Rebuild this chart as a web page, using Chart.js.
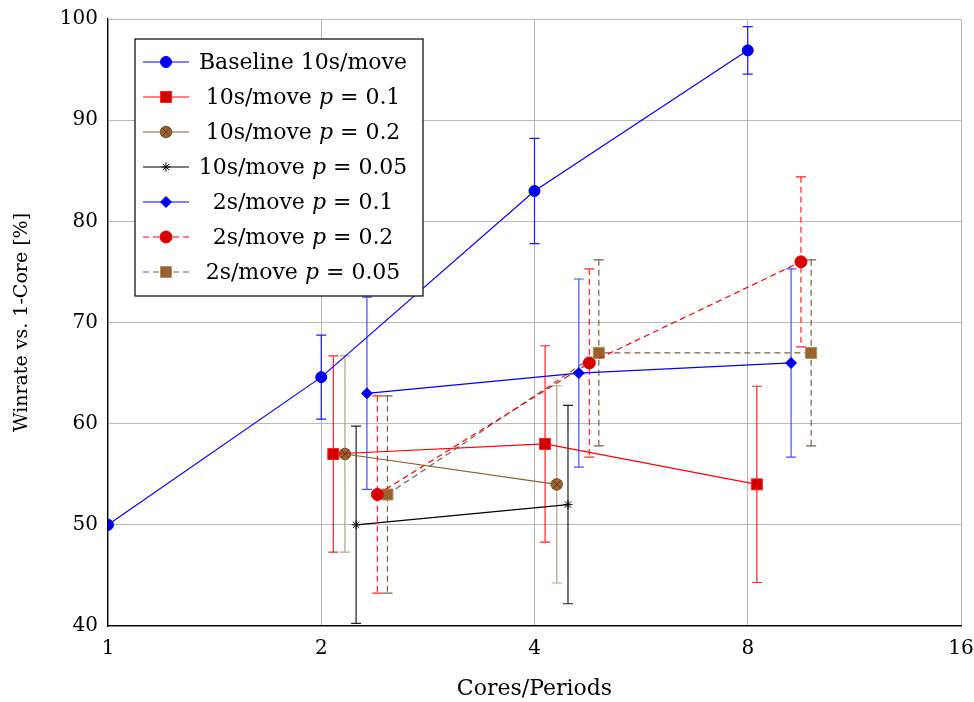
<!DOCTYPE html>
<html>

<head>
    <meta charset="utf-8" />
    <style>
        body { margin: 0; background: #fff; }
    </style>
</head>

<body>
    <div style="width:974px; height:702px;">
        <canvas id="winrateChart" width="974" height="702"></canvas>
    </div>

    <script src="https://cdn.jsdelivr.net/npm/chart.js@4.4.1/dist/chart.umd.min.js"></script>

    <script>
        // values (x is shifted a bit per series, like the original)
        const xTicks = [1, 2, 4, 8, 16];

        const baselineX = [1, 2, 4, 8];
        const baselineY = [50, 64.6, 83, 96.9];
        const baselineErr = [0, 4.15, 5.2, 2.35];

        const tenP1X = [2.08, 4.14, 8.24];
        const tenP1Y = [57, 58, 54];
        const tenP1Err = [9.7, 9.7, 9.7];

        const tenP2X = [2.16, 4.30];
        const tenP2Y = [57, 54];
        const tenP2Err = [9.7, 9.75];

        const tenP05X = [2.24, 4.46];
        const tenP05Y = [50, 52];
        const tenP05Err = [9.75, 9.8];

        const twoP1X = [2.32, 4.62, 9.21];
        const twoP1Y = [63, 65, 66];
        const twoP1Err = [9.5, 9.3, 9.3];

        const twoP2X = [2.40, 4.78, 9.51];
        const twoP2Y = [53, 66, 76];
        const twoP2Err = [9.75, 9.3, 8.4];

        const twoP05X = [2.48, 4.93, 9.83];
        const twoP05Y = [53, 67, 67];
        const twoP05Err = [9.75, 9.2, 9.2];

        const seriesLabels = [
            'Baseline 10s/move',
            '10s/move p = 0.1',
            '10s/move p = 0.2',
            '10s/move p = 0.05',
            '2s/move p = 0.1',
            '2s/move p = 0.2',
            '2s/move p = 0.05'
        ];

        function points(xs, ys) {
            return xs.map((x, i) => ({ x: x, y: ys[i] }));
        }

        const serif = 'DejaVu Serif';

        function series(label, xs, ys, errs, style) {
            return Object.assign({
                label: label,
                data: points(xs, ys),
                errors: errs,
                borderWidth: 1.2,
                pointBorderWidth: 1,
                tension: 0,
                fill: false
            }, style);
        }

        const datasets = [
            series(seriesLabels[0], baselineX, baselineY, baselineErr, {
                borderColor: '#0000ff', errColor: '#1a1aff',
                pointStyle: 'circle', pointRadius: 5.5,
                pointBackgroundColor: '#0000ee', pointBorderColor: '#0000ee'
            }),
            series(seriesLabels[1], tenP1X, tenP1Y, tenP1Err, {
                borderColor: '#ff0000', errColor: '#ff2020',
                pointStyle: 'rect', pointRadius: 7.8,
                pointBackgroundColor: '#d00000', pointBorderColor: '#ff2020'
            }),
            series(seriesLabels[2], tenP2X, tenP2Y, tenP2Err, {
                borderColor: '#8c5e30', errColor: '#b3a08a',
                pointStyle: 'circle', pointRadius: 5.8, otimes: true,
                pointBackgroundColor: '#99632f', pointBorderColor: '#7a5228'
            }),
            series(seriesLabels[3], tenP05X, tenP05Y, tenP05Err, {
                borderColor: '#000000', errColor: '#202020',
                pointStyle: 'star', pointRadius: 4.5,
                pointBackgroundColor: '#000000', pointBorderColor: '#000000'
            }),
            series(seriesLabels[4], twoP1X, twoP1Y, twoP1Err, {
                borderColor: '#0000ff', errColor: '#4a4aff',
                pointStyle: 'rectRot', pointRadius: 5.5,
                pointBackgroundColor: '#0000ee', pointBorderColor: '#0000ee'
            }),
            series(seriesLabels[5], twoP2X, twoP2Y, twoP2Err, {
                borderColor: '#ff0000', errColor: '#ff2020', borderDash: [6, 4],
                pointStyle: 'circle', pointRadius: 6,
                pointBackgroundColor: '#d80000', pointBorderColor: '#e00000'
            }),
            series(seriesLabels[6], twoP05X, twoP05Y, twoP05Err, {
                borderColor: '#7a6045', errColor: '#7a6045', borderDash: [6, 4],
                pointStyle: 'rect', pointRadius: 7.8,
                pointBackgroundColor: '#99632f', pointBorderColor: '#b38a60'
            })
        ];

        // vertical error bars with caps
        const errorBars = {
            id: 'errorBars',
            beforeDatasetsDraw(chart) {
                const ctx = chart.ctx;
                const xs = chart.scales.x, ys = chart.scales.y;
                ctx.save();
                chart.data.datasets.forEach(ds => {
                    ctx.strokeStyle = ds.errColor;
                    ctx.lineWidth = 1.2;
                    ds.data.forEach((pt, i) => {
                        const e = ds.errors[i];
                        if (!e) return;
                        const px = xs.getPixelForValue(pt.x);
                        const top = ys.getPixelForValue(pt.y + e);
                        const bot = ys.getPixelForValue(pt.y - e);
                        ctx.setLineDash(ds.borderDash || []);
                        ctx.beginPath();
                        ctx.moveTo(px, top);
                        ctx.lineTo(px, bot);
                        ctx.stroke();
                        ctx.setLineDash([]);
                        ctx.beginPath();
                        ctx.moveTo(px - 5, top);
                        ctx.lineTo(px + 5, top);
                        ctx.moveTo(px - 5, bot);
                        ctx.lineTo(px + 5, bot);
                        ctx.stroke();
                    });
                });
                ctx.restore();
            }
        };

        function drawOtimes(ctx, x, y, r) {
            const d = r * 0.7;
            ctx.save();
            ctx.strokeStyle = '#5a3a1a';
            ctx.lineWidth = 0.9;
            ctx.beginPath();
            ctx.moveTo(x - d, y - d);
            ctx.lineTo(x + d, y + d);
            ctx.moveTo(x - d, y + d);
            ctx.lineTo(x + d, y - d);
            ctx.stroke();
            ctx.restore();
        }

        const otimesMarks = {
            id: 'otimesMarks',
            afterDatasetsDraw(chart) {
                chart.data.datasets.forEach((ds, di) => {
                    if (!ds.otimes) return;
                    chart.getDatasetMeta(di).data.forEach(el => {
                        drawOtimes(chart.ctx, el.x, el.y, ds.pointRadius);
                    });
                });
            }
        };

        // legend box in the upper left of the plot, one column
        const boxLegend = {
            id: 'boxLegend',
            afterDraw(chart) {
                const ctx = chart.ctx;
                const area = chart.chartArea;
                const left = area.left + 27, top = area.top + 20;
                const w = 288, h = 257;
                ctx.save();
                ctx.fillStyle = '#ffffff';
                ctx.fillRect(left, top, w, h);
                ctx.strokeStyle = '#000000';
                ctx.lineWidth = 1.2;
                ctx.strokeRect(left, top, w, h);

                chart.data.datasets.forEach((ds, i) => {
                    const y = top + 23 + i * 35;
                    ctx.strokeStyle = ds.borderColor;
                    ctx.lineWidth = 1.2;
                    ctx.setLineDash(ds.borderDash || []);
                    ctx.beginPath();
                    ctx.moveTo(left + 8, y);
                    ctx.lineTo(left + 54, y);
                    ctx.stroke();
                    ctx.setLineDash([]);

                    ctx.fillStyle = ds.pointBackgroundColor;
                    ctx.strokeStyle = ds.pointBorderColor;
                    ctx.lineWidth = ds.pointBorderWidth;
                    Chart.helpers.drawPoint(ctx, {
                        pointStyle: ds.pointStyle,
                        radius: ds.pointRadius,
                        rotation: 0,
                        borderWidth: ds.pointBorderWidth
                    }, left + 31, y);
                    if (ds.otimes) drawOtimes(ctx, left + 31, y, ds.pointRadius);

                    // text with italic p
                    const parts = ds.label.split(/(\bp\b)/);
                    const fonts = parts.map(p => (p === 'p' ? 'italic ' : '') + '22px "' + serif + '"');
                    let total = 0;
                    parts.forEach((p, k) => { ctx.font = fonts[k]; total += ctx.measureText(p).width; });
                    let tx = left + 168 - total / 2;
                    ctx.fillStyle = '#000000';
                    ctx.textBaseline = 'middle';
                    ctx.textAlign = 'left';
                    parts.forEach((p, k) => {
                        ctx.font = fonts[k];
                        ctx.fillText(p, tx, y + 1);
                        tx += ctx.measureText(p).width;
                    });
                });
                ctx.restore();
            }
        };

        const gridColor = '#b8b8b8';

        const chart = new Chart(document.getElementById('winrateChart'), {
            type: 'line',
            data: { datasets: datasets },
            options: {
                responsive: false,
                animation: false,
                devicePixelRatio: 1,
                layout: { padding: { top: 19, right: 13, left: 0, bottom: 0 } },
                plugins: {
                    legend: { display: false },
                    tooltip: { enabled: false }
                },
                scales: {
                    x: {
                        type: 'logarithmic',
                        min: 1,
                        max: 16,
                        afterBuildTicks: scale => {
                            scale.ticks = xTicks.map(v => ({ value: v }));
                        },
                        afterFit: scale => {
                            scale.height = 76;
                            scale.paddingLeft = 0;
                            scale.paddingRight = 0;
                        },
                        ticks: {
                            callback: v => String(v),
                            color: '#000',
                            font: { family: serif, size: 20 },
                            padding: 11,
                            maxRotation: 0,
                            autoSkip: false
                        },
                        grid: { color: gridColor, lineWidth: 1, drawTicks: false },
                        border: { color: '#000', width: 1.2 },
                        title: {
                            display: true,
                            text: 'Cores/Periods',
                            color: '#000',
                            font: { family: serif, size: 22 },
                            padding: { top: 0, bottom: 0 }
                        }
                    },
                    y: {
                        min: 40,
                        max: 100,
                        afterFit: scale => {
                            scale.width = 108;
                            scale.paddingTop = 0;
                            scale.paddingBottom = 0;
                        },
                        ticks: {
                            stepSize: 10,
                            color: '#000',
                            font: { family: serif, size: 20 },
                            padding: 10
                        },
                        grid: { color: gridColor, lineWidth: 1, drawTicks: false },
                        border: { color: '#000', width: 1.2 },
                        title: {
                            display: true,
                            text: 'Winrate vs. 1-Core [%]',
                            color: '#000',
                            font: { family: serif, size: 19 },
                            padding: { top: 11, bottom: 0 }
                        }
                    }
                }
            },
            plugins: [errorBars, otimesMarks, boxLegend]
        });
    </script>
</body>

</html>
